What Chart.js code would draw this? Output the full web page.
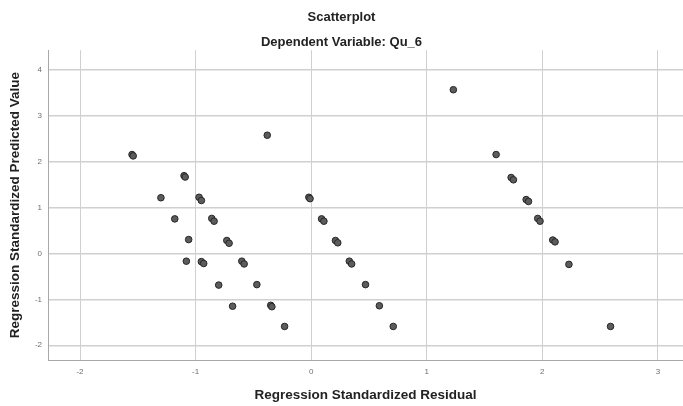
<!DOCTYPE html>
<html>
<head>
<meta charset="utf-8">
<title>Scatterplot</title>
<script src="https://cdn.jsdelivr.net/npm/chart.js@4/dist/chart.umd.min.js"></script>
<style>
    html, body { margin: 0; padding: 0; background: #fff; }
    #wrap { width: 683px; height: 406px; }
</style>
</head>
<body>
<div id="wrap"><canvas id="chart"></canvas></div>
<script>
// Regression Standardized Residual (x) and Predicted Value (y)
const residual = [
    -1.55, -1.54, -1.30, -1.10, -1.09, -0.97, -0.95, -0.38, -0.02, -0.01,
    1.23, 1.60, 1.73, 1.75, 1.86, 1.88,
    -1.18, -1.06, -1.08, -0.95, -0.93, -0.86, -0.84, -0.73, -0.71, -0.80,
    -0.60, -0.58, -0.68, -0.47, -0.35, -0.34, -0.23,
    0.09, 0.11, 0.21, 0.23, 0.33, 0.35, 0.47, 0.59, 0.71,
    1.96, 1.98, 2.09, 2.11, 2.23, 2.59
];
const predicted = [
    2.15, 2.12, 1.21, 1.69, 1.66, 1.22, 1.15, 2.57, 1.22, 1.19,
    3.56, 2.15, 1.65, 1.60, 1.17, 1.13,
    0.75, 0.30, -0.17, -0.18, -0.22, 0.76, 0.70, 0.28, 0.22, -0.69,
    -0.17, -0.23, -1.15, -0.68, -1.13, -1.16, -1.59,
    0.75, 0.70, 0.28, 0.23, -0.17, -0.23, -0.68, -1.14, -1.59,
    0.76, 0.70, 0.29, 0.25, -0.24, -1.59
];
const xTicks = [-2, -1, 0, 1, 2, 3];
const yTicks = [-2, -1, 0, 1, 2, 3, 4];

const points = residual.map((x, i) => ({ x: x, y: predicted[i] }));

const tickFont = { size: 8, family: 'Liberation Sans' };
const titleFont = { size: 13.5, weight: 'bold', family: 'Liberation Sans' };
const headFont = { size: 13, weight: 'bold', family: 'Liberation Sans' };

new Chart(document.getElementById('chart'), {
    type: 'scatter',
    data: {
        datasets: [{
            data: points,
            backgroundColor: '#5c5c5c',
            borderColor: '#262626',
            borderWidth: 1,
            pointRadius: 3.3,
            pointHoverRadius: 3.3
        }]
    },
    options: {
        responsive: true,
        maintainAspectRatio: false,
        animation: false,
        layout: { padding: 0, autoPadding: false },
        plugins: {
            legend: { display: false },
            tooltip: { enabled: false },
            title: {
                display: true,
                text: 'Scatterplot',
                color: '#222',
                font: headFont,
                padding: { top: 10, bottom: 8 }
            },
            subtitle: {
                display: true,
                text: 'Dependent Variable: Qu_6',
                color: '#222',
                font: headFont,
                padding: { top: 1, bottom: 0 }
            }
        },
        scales: {
            x: {
                type: 'linear',
                min: -2.277,
                max: 3.217,
                afterBuildTicks: s => { s.ticks = xTicks.map(v => ({ value: v })); },
                afterFit: s => { s.height = 46; },
                ticks: { color: '#6e6e6e', font: tickFont, padding: 7 },
                grid: { color: '#d0d0d0', lineWidth: 1, drawTicks: false },
                border: { color: '#a8a8a8', width: 1 },
                title: {
                    display: true,
                    text: 'Regression Standardized Residual',
                    color: '#222',
                    font: titleFont,
                    padding: { top: 0, bottom: 3 }
                }
            },
            y: {
                type: 'linear',
                min: -2.32,
                max: 4.42,
                afterBuildTicks: s => { s.ticks = yTicks.map(v => ({ value: v })); },
                afterFit: s => { s.width = 48; },
                ticks: { color: '#6e6e6e', font: tickFont, padding: 6 },
                grid: { color: '#d0d0d0', lineWidth: 1.4, drawTicks: false },
                border: { color: '#a8a8a8', width: 1 },
                title: {
                    display: true,
                    text: 'Regression Standardized Predicted Value',
                    color: '#222',
                    font: titleFont,
                    padding: { top: 7, bottom: 0 }
                }
            }
        }
    }
});
</script>
</body>
</html>
